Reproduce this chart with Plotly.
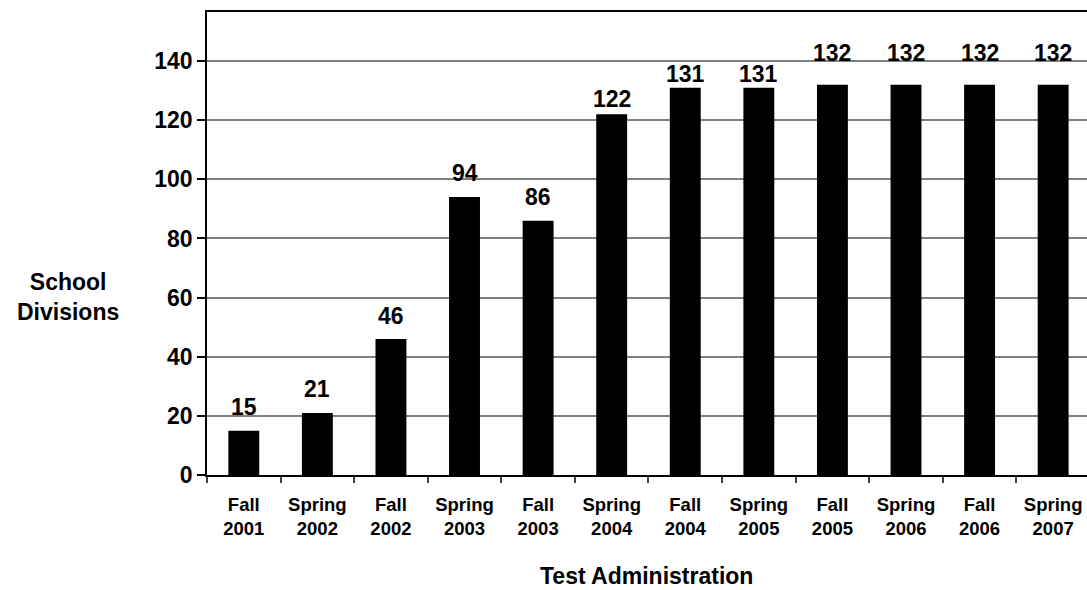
import plotly.graph_objects as go

# Test administrations (category axis) and number of participating school divisions
terms = ["Fall", "Spring", "Fall", "Spring", "Fall", "Spring",
         "Fall", "Spring", "Fall", "Spring", "Fall", "Spring"]
years = ["2001", "2002", "2002", "2003", "2003", "2004",
         "2004", "2005", "2005", "2006", "2006", "2007"]
divisions = [15, 21, 46, 94, 86, 122, 131, 131, 132, 132, 132, 132]

y_ticks = [0, 20, 40, 60, 80, 100, 120, 140]

# vertical offset (px) of each value label above its bar
label_shift = [24, 24, 23, 24, 24, 15, 14, 14, 32, 32, 32, 32]

categories = [f"{t}<br>{y}" for t, y in zip(terms, years)]

FONT = "Liberation Sans, Arial, sans-serif"

fig = go.Figure(
    go.Bar(
        x=categories,
        y=divisions,
        width=0.42,
        marker=dict(color="#000000", line=dict(width=0)),
        hoverinfo="skip",
    )
)

for cat, val, dy in zip(categories, divisions, label_shift):
    fig.add_annotation(
        x=cat, y=val, xref="x", yref="y",
        text=str(val), showarrow=False,
        yanchor="middle", yshift=dy,
        font=dict(family=FONT, size=23, color="#000000", weight="bold"),
    )

# axis titles
fig.add_annotation(
    x=-0.158, y=0.384, xref="paper", yref="paper",
    text="School<br>Divisions", showarrow=False, align="center",
    xanchor="center", yanchor="middle",
    font=dict(family=FONT, size=23, color="#000000", weight="bold"),
)
fig.add_annotation(
    x=0.499, y=-0.218, xref="paper", yref="paper",
    text="Test Administration", showarrow=False,
    xanchor="center", yanchor="middle",
    font=dict(family=FONT, size=23, color="#000000", weight="bold"),
)

fig.update_layout(
    width=1087,
    height=590,
    margin=dict(l=207, r=0, t=12, b=115),
    paper_bgcolor="#ffffff",
    plot_bgcolor="#ffffff",
    showlegend=False,
    bargap=0.58,
)

fig.update_xaxes(
    type="category",
    range=[-0.5, 11.46],
    showline=True, linecolor="#000000", linewidth=2, mirror=True,
    showgrid=False,
    ticks="outside", tickson="boundaries", ticklen=6, tickwidth=1.5,
    tickcolor="#404040",
    tickfont=dict(family=FONT, size=18.5, color="#000000", weight="bold"),
    ticklabelstandoff=12,
)

fig.update_yaxes(
    range=[0, 156.6],
    tickvals=y_ticks,
    showline=True, linecolor="#000000", linewidth=1.5,
    showgrid=True, gridcolor="#808080", gridwidth=1.5,
    zeroline=False,
    ticks="outside", ticklen=8, tickwidth=1.5, tickcolor="#000000",
    tickfont=dict(family=FONT, size=23, color="#000000", weight="bold"),
)

fig.write_html("out.html")
